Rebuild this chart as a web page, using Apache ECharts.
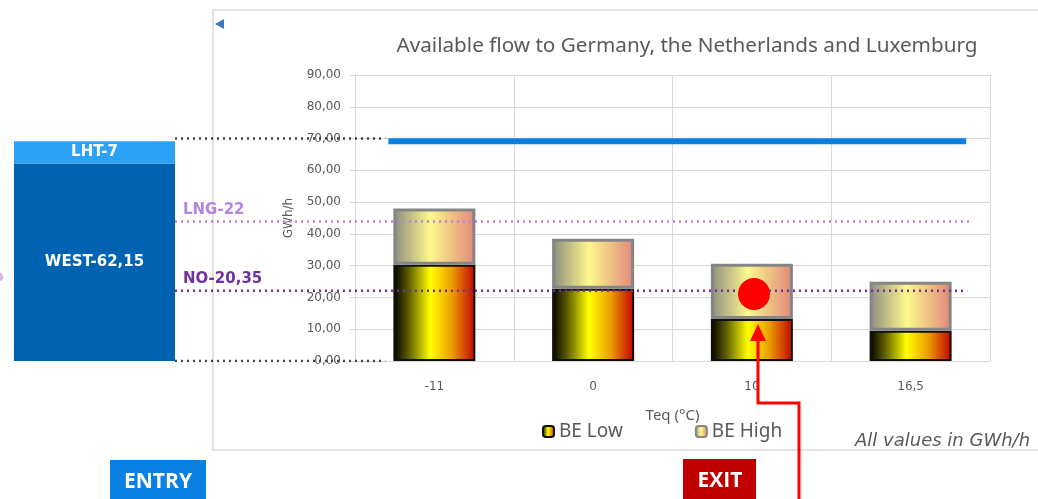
<!DOCTYPE html>
<html>
<head>
<meta charset="utf-8">
<script src="https://cdn.jsdelivr.net/npm/echarts@6/dist/echarts.min.js"></script>
<style>
  html, body { margin: 0; padding: 0; background: #fff; }
  #main { width: 1038px; height: 499px; }
</style>
</head>
<body>
<div id="main"></div>
<script>
// categories and values
var categories = ['-11', '0', '10', '16,5'];
var beLow = [30.3, 22.7, 13.2, 9.5];
var beHigh = [17.7, 15.8, 17.4, 15.4];
var westVal = 62.15;
var lhtVal = 7;
var entryLevel = 69.15;
var lngLevel = 43.9;
var noLevel = 22.1;

var grey = '#595959';
var fmt = function (v) { return v.toFixed(2).replace('.', ','); };

var lowColor = new echarts.graphic.LinearGradient(0, 0, 1, 0, [
  { offset: 0, color: '#000000' },
  { offset: 0.18, color: '#5a5a00' },
  { offset: 0.45, color: '#ffff00' },
  { offset: 0.72, color: '#eb9a00' },
  { offset: 1, color: '#c00000' }
]);
var highColor = new echarts.graphic.LinearGradient(0, 0, 1, 0, [
  { offset: 0, color: '#8c8c80' },
  { offset: 0.45, color: '#fdf88c' },
  { offset: 1, color: '#e0867a' }
]);

var levelLabel = function (text, color) {
  return {
    show: true, formatter: text, position: 'top', align: 'left', offset: [8, 1],
    fontFamily: 'DejaVu Sans', fontWeight: 'bold', fontSize: 15, color: color
  };
};

var chart = echarts.init(document.getElementById('main'));
var opts = {
  animation: false,
  title: {
    text: 'Available flow to Germany, the Netherlands and Luxemburg',
    left: 682, top: 31, textAlign: 'center',
    textStyle: { fontFamily: 'Noto Sans', fontSize: 20.7, fontWeight: 'normal', color: grey }
  },
  legend: {
    data: ['BE Low', 'BE High'],
    left: 537, top: 417,
    itemWidth: 11, itemHeight: 11, itemGap: 72,
    textStyle: { fontFamily: 'Noto Sans', fontSize: 19, color: grey }
  },
  grid: [
    { left: 355, right: 48, top: 75, bottom: 138 },
    { left: 175, right: 48, top: 75, bottom: 138 },
    { left: 14, width: 161, top: 75, bottom: 138 }
  ],
  xAxis: [
    {
      type: 'category', gridIndex: 0, data: categories,
      name: 'Teq (°C)', nameLocation: 'middle', nameGap: 47,
      nameTextStyle: { fontFamily: 'Noto Sans', fontSize: 15, color: grey },
      axisLine: { lineStyle: { color: '#d9d9d9' } },
      axisTick: { show: false },
      axisLabel: { fontFamily: 'DejaVu Sans', fontSize: 12, color: grey, margin: 20 },
      splitLine: { show: true, lineStyle: { color: '#d9d9d9' } }
    },
    { type: 'value', gridIndex: 1, min: 0, max: 1, show: false },
    { type: 'category', gridIndex: 2, data: ['entry'], show: false },
    { type: 'value', gridIndex: 0, min: 0, max: 4, show: false }
  ],
  yAxis: [
    {
      type: 'value', gridIndex: 0, min: 0, max: 90, interval: 10,
      name: 'GWh/h', nameLocation: 'middle', nameGap: 60,
      nameTextStyle: { fontFamily: 'DejaVu Sans', fontSize: 12, color: grey },
      axisLine: { show: true, lineStyle: { color: '#d9d9d9' } },
      axisLabel: { fontFamily: 'DejaVu Sans', fontSize: 12, color: grey, margin: 14, formatter: fmt },
      splitLine: { lineStyle: { color: '#d9d9d9' } }
    },
    { type: 'value', gridIndex: 1, min: 0, max: 90, show: false },
    { type: 'value', gridIndex: 2, min: 0, max: 90, show: false }
  ],
  graphic: [
    { type: 'rect', shape: { x: 213, y: 10, width: 840, height: 440 }, style: { fill: 'none', stroke: '#d9d9d9', lineWidth: 1.5 }, z: -10 },
    { type: 'polygon', shape: { points: [[215, 24], [224, 19], [224, 29]] }, style: { fill: '#4472c4' } },
    { type: 'circle', shape: { cx: -1, cy: 277, r: 4 }, style: { fill: '#d6b4e6' } },
    { type: 'text', left: 855, top: 432, style: { text: 'All values in GWh/h', font: 'italic 18px "DejaVu Sans"', fill: grey } },
    { type: 'rect', shape: { x: 110, y: 460, width: 96, height: 45 }, style: { fill: '#0a80e2' } },
    { type: 'text', x: 158, y: 482, style: { text: 'ENTRY', font: 'bold 21px "Open Sans"', fill: '#fff', align: 'center', verticalAlign: 'middle' } },
    { type: 'rect', shape: { x: 683, y: 459, width: 73, height: 45 }, style: { fill: '#c00000' } },
    { type: 'text', x: 720, y: 481, style: { text: 'EXIT', font: 'bold 21px "Open Sans"', fill: '#fff', align: 'center', verticalAlign: 'middle' } },
    { type: 'polyline', shape: { points: [[799, 499], [799, 403], [758, 403], [758, 338]] }, style: { stroke: '#ff0000', lineWidth: 3, fill: 'none' }, z: 100 },
    { type: 'polygon', shape: { points: [[758, 324], [750, 341], [766, 341]] }, style: { fill: '#ff0000' }, z: 100 },
    { type: 'circle', shape: { cx: 754, cy: 294, r: 16 }, style: { fill: '#ff0000' }, z: 100 }
  ],
  series: [
    {
      name: 'BE Low', type: 'bar', stack: 'be', xAxisIndex: 0, yAxisIndex: 0,
      barWidth: 82, data: beLow,
      itemStyle: { color: lowColor, borderColor: '#111', borderWidth: 2 }
    },
    {
      name: 'BE High', type: 'bar', stack: 'be', xAxisIndex: 0, yAxisIndex: 0,
      barWidth: 82, data: beHigh,
      itemStyle: { color: highColor, borderColor: '#858585', borderWidth: 3 }
    },
    {
      name: 'entry', type: 'line', xAxisIndex: 3, yAxisIndex: 0, symbol: 'none',
      data: [[0.21, entryLevel], [3.85, entryLevel]],
      lineStyle: { color: '#0a80e2', width: 6 }
    },
    {
      name: 'LNG', type: 'line', xAxisIndex: 1, yAxisIndex: 1,
      symbol: 'circle', symbolSize: 0.1, showSymbol: true, z: 5,
      data: [{ value: [0, lngLevel], label: levelLabel('LNG-22', '#b385e0') }, [0.975, lngLevel]],
      itemStyle: { color: '#b385e0' },
      lineStyle: { color: '#b385e0', width: 2.5, type: [2, 4] }
    },
    {
      name: 'NO', type: 'line', xAxisIndex: 1, yAxisIndex: 1,
      symbol: 'circle', symbolSize: 0.1, showSymbol: true, z: 5,
      data: [{ value: [0, noLevel], label: levelLabel('NO-20,35', '#7030a0') }, [0.972, noLevel]],
      itemStyle: { color: '#7030a0' },
      lineStyle: { color: '#7030a0', width: 2.5, type: [2, 4] }
    },
    {
      name: 'top70', type: 'line', xAxisIndex: 1, yAxisIndex: 1, symbol: 'none', z: 5,
      data: [[0, 70], [0.258, 70]],
      lineStyle: { color: '#404040', width: 2.5, type: [2, 4] }
    },
    {
      name: 'zero', type: 'line', xAxisIndex: 1, yAxisIndex: 1, symbol: 'none', z: 5,
      data: [[0, 0], [0.258, 0]],
      lineStyle: { color: '#404040', width: 2.5, type: [2, 4] }
    },
    {
      name: 'WEST', type: 'bar', stack: 'entry', xAxisIndex: 2, yAxisIndex: 2,
      barWidth: '100%', data: [westVal],
      itemStyle: { color: '#0063b1' },
      label: { show: true, position: 'inside', formatter: 'WEST-62,15', fontFamily: 'DejaVu Sans', fontWeight: 'bold', fontSize: 15, color: '#fff' }
    },
    {
      name: 'LHT', type: 'bar', stack: 'entry', xAxisIndex: 2, yAxisIndex: 2,
      barWidth: '100%', data: [lhtVal],
      itemStyle: { color: '#2ba2f6' },
      label: { show: true, position: 'inside', formatter: 'LHT-7', fontFamily: 'DejaVu Sans', fontWeight: 'bold', fontSize: 15, color: '#fff' }
    }
  ]
};
chart.setOption(opts);
</script>
</body>
</html>
